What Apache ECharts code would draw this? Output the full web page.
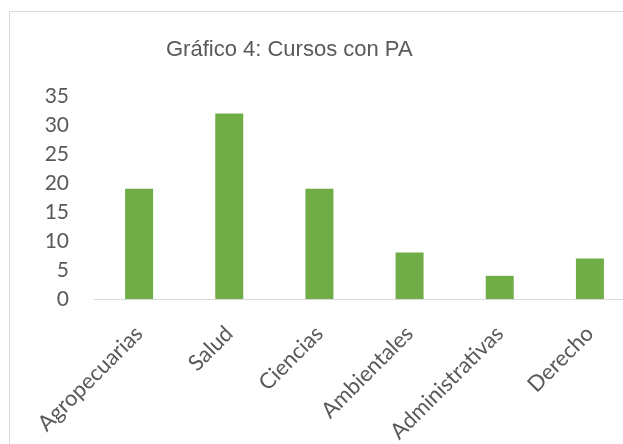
<!DOCTYPE html>
<html>
<head>
<meta charset="utf-8">
<script src="https://cdn.jsdelivr.net/npm/echarts@6/dist/echarts.min.js"></script>
<style>
  html, body { margin: 0; padding: 0; background: #fff; }
  #chart { width: 623px; height: 444px; }
</style>
</head>
<body>
<div id="chart"></div>
<script>
  // categorias y valores
  const categories = ['Agropecuarias', 'Salud', 'Ciencias', 'Ambientales', 'Administrativas', 'Derecho']
  const cursos = [19, 32, 19, 8, 4, 7]
  const yTicks = [0, 5, 10, 15, 20, 25, 30, 35]

  const chart = echarts.init(document.getElementById('chart'))
  chart.setOption({
    animation: false,
    title: {
      text: 'Gráfico 4: Cursos con PA',
      left: 161,
      top: 34,
      textStyle: {
        fontFamily: 'Liberation Sans',
        fontWeight: 'normal',
        fontSize: 22,
        color: '#595959'
      }
    },
    graphic: [{
      type: 'rect',
      shape: { x: 9.5, y: 11.5, width: 700, height: 500 },
      style: { fill: 'none', stroke: '#d9d9d9', lineWidth: 1 },
      silent: true
    }],
    grid: {
      left: 94,
      top: 96,
      width: 541,
      bottom: 145,
      outerBoundsMode: 'none'
    },
    xAxis: {
      type: 'category',
      data: categories,
      axisTick: { show: false },
      axisLine: { lineStyle: { color: '#d9d9d9', width: 1 } },
      axisLabel: {
        rotate: 45,
        interval: 0,
        margin: 31,
        fontFamily: 'Lato',
        fontSize: 22,
        color: '#595959'
      }
    },
    yAxis: {
      type: 'value',
      min: yTicks[0],
      max: yTicks[yTicks.length - 1],
      interval: 5,
      splitLine: { show: false },
      axisLine: { show: false },
      axisTick: { show: false },
      axisLabel: {
        margin: 25,
        fontFamily: 'Lato',
        fontSize: 21,
        color: '#595959'
      }
    },
    series: [{
      type: 'bar',
      data: cursos,
      barWidth: 28,
      itemStyle: { color: '#70ad47' }
    }]
  })
</script>
</body>
</html>
